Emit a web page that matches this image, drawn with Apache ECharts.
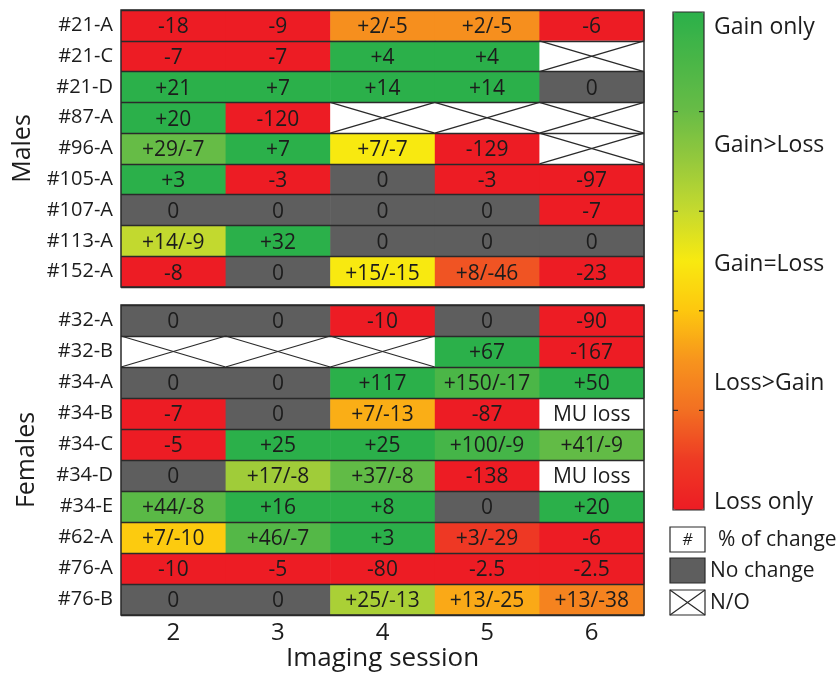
<!DOCTYPE html>
<html><head><meta charset="utf-8">
<script src="https://cdn.jsdelivr.net/npm/echarts@6/dist/echarts.min.js"></script>
<style>html,body{margin:0;padding:0;background:#fff}#c{width:839px;height:675px}</style>
</head><body><div id="c"></div><script>
// ---------- data ----------
const sessions = ['2', '3', '4', '5', '6'];
const maleIds = ['#21-A', '#21-C', '#21-D', '#87-A', '#96-A', '#105-A', '#107-A', '#113-A', '#152-A'];
const maleCells = [
  ['-18', '-9', '+2/-5', '+2/-5', '-6'],
  ['-7', '-7', '+4', '+4', 'N/O'],
  ['+21', '+7', '+14', '+14', '0'],
  ['+20', '-120', 'N/O', 'N/O', 'N/O'],
  ['+29/-7', '+7', '+7/-7', '-129', 'N/O'],
  ['+3', '-3', '0', '-3', '-97'],
  ['0', '0', '0', '0', '-7'],
  ['+14/-9', '+32', '0', '0', '0'],
  ['-8', '0', '+15/-15', '+8/-46', '-23']
];
const femaleIds = ['#32-A', '#32-B', '#34-A', '#34-B', '#34-C', '#34-D', '#34-E', '#62-A', '#76-A', '#76-B'];
const femaleCells = [
  ['0', '0', '-10', '0', '-90'],
  ['N/O', 'N/O', 'N/O', '+67', '-167'],
  ['0', '0', '+117', '+150/-17', '+50'],
  ['-7', '0', '+7/-13', '-87', 'MU loss'],
  ['-5', '+25', '+25', '+100/-9', '+41/-9'],
  ['0', '+17/-8', '+37/-8', '-138', 'MU loss'],
  ['+44/-8', '+16', '+8', '0', '+20'],
  ['+7/-10', '+46/-7', '+3', '+3/-29', '-6'],
  ['-10', '-5', '-80', '-2.5', '-2.5'],
  ['0', '0', '+25/-13', '+13/-25', '+13/-38']
];
const groupNames = ['Males', 'Females'];
const axisTitle = 'Imaging session';
const scaleLabels = ['Gain only', 'Gain>Loss', 'Gain=Loss', 'Loss>Gain', 'Loss only'];
const legendLabels = ['% of change', 'No change', 'N/O'];
const legendSymbolText = '#';

// ---------- styles ----------
const FONT = "'Open Sans', sans-serif";
const TXT = '#1c1c1c';
const LINE = '#2a2a2a';
const GRAY = '#5e5e5e';
// colour ramp from "loss only" (0) to "gain only" (1), evenly spaced stops
const ramp = ['#ed1c24', '#ee3a24', '#f26f22', '#f7941d', '#fdc70f', '#f8e910',
              '#c6da2e', '#96c93c', '#68bc46', '#4ab647', '#2bb04a'];

// ---------- build ----------
function buildPanel(cells) {
  const data = [], meta = [];
  cells.forEach((row, r) => row.forEach((lab, c) => {
    let kind = 'ratio', ratio = '-';
    if (lab === 'N/O') kind = 'na';
    else if (lab === 'MU loss') kind = 'mu';
    else if (Number(lab) === 0) kind = 'none';
    else {
      const parts = lab.match(/[+-][\d.]+/g).map(Number);
      let g = 0, l = 0;
      parts.forEach(p => { if (p > 0) g += p; else l -= p; });
      ratio = g / (g + l);
    }
    data.push([c, r, ratio]);
    meta.push({ kind, text: lab });
  }));
  return { data, meta };
}
const panels = [buildPanel(maleCells), buildPanel(femaleCells)];

function makeRender(meta) {
  return function (params, api) {
    const m = meta[params.dataIndex];
    const ctr = api.coord([api.value(0), api.value(1)]);
    const sz = api.size([1, 1]);
    const x = ctr[0] - sz[0] / 2, y = ctr[1] - sz[1] / 2, w = sz[0], h = sz[1];
    let fill = '#fff';
    if (m.kind === 'ratio') fill = api.visual('color');
    else if (m.kind === 'none') fill = GRAY;
    const children = [{ type: 'rect', shape: { x: x, y: y, width: w + 0.6, height: h + 0.6 }, style: { fill: fill } }];
    if (m.kind === 'na') {
      children.push({ type: 'line', shape: { x1: x, y1: y, x2: x + w, y2: y + h }, style: { stroke: LINE, lineWidth: 1.3 } });
      children.push({ type: 'line', shape: { x1: x, y1: y + h, x2: x + w, y2: y }, style: { stroke: LINE, lineWidth: 1.3 } });
    } else {
      children.push({ type: 'text', style: { text: m.text, x: ctr[0], y: ctr[1] + 2, align: 'center', verticalAlign: 'middle', font: '21px ' + FONT, fill: TXT } });
    }
    return { type: 'group', children: children };
  };
}

const grids = [
  { left: 121, top: 10, width: 523, height: 277 },
  { left: 121, top: 305, width: 523, height: 310 }
].map(g => Object.assign(g, { show: true, z: 10, borderColor: LINE, borderWidth: 1.5, backgroundColor: 'transparent' }));

const ids = [maleIds, femaleIds];
const xAxes = [0, 1].map(i => ({
  type: 'category', gridIndex: i, data: sessions,
  axisLine: { show: false }, axisTick: { show: false }, splitLine: { show: false },
  axisLabel: { show: i === 1, fontSize: 24, fontFamily: FONT, color: TXT, margin: 6, interval: 0 },
  name: i === 1 ? axisTitle : '', nameLocation: 'middle', nameGap: 29,
  nameTextStyle: { fontSize: 26, fontFamily: FONT, color: TXT }
}));
const yAxes = [0, 1].map(i => ({
  type: 'category', gridIndex: i, data: ids[i], inverse: true, z: 5,
  axisLine: { show: false }, axisTick: { show: false },
  splitLine: { show: true, interval: 0, lineStyle: { color: LINE, width: 1.3 } },
  axisLabel: { fontSize: 20, fontFamily: FONT, color: TXT, margin: 8, interval: 0 },
  name: groupNames[i], nameLocation: 'middle', nameRotate: 90, nameGap: 82,
  nameTextStyle: { fontSize: 25, fontFamily: FONT, color: TXT }
}));

const series = panels.map((p, i) => ({
  type: 'custom', xAxisIndex: i, yAxisIndex: i, data: p.data,
  renderItem: makeRender(p.meta), animation: false, z: 2
}));

// colour bar decorations and legend
const barX = 673, barY = 12, barW = 31, barH = 498;
const graphics = [];
graphics.push({ type: 'rect', z: 100, shape: { x: barX, y: barY, width: barW, height: barH }, style: { fill: 'none', stroke: LINE, lineWidth: 1.2 } });
for (let k = 1; k < scaleLabels.length; k++) {
  const ty = barY + barH * k / scaleLabels.length;
  graphics.push({ type: 'line', z: 100, shape: { x1: barX, y1: ty, x2: barX + 5, y2: ty }, style: { stroke: LINE, lineWidth: 1.2 } });
  graphics.push({ type: 'line', z: 100, shape: { x1: barX + barW - 5, y1: ty, x2: barX + barW, y2: ty }, style: { stroke: LINE, lineWidth: 1.2 } });
}
scaleLabels.forEach((t, i) => {
  graphics.push({ type: 'text', z: 100, style: { text: t, x: 714, y: 27 + i * 118.75, verticalAlign: 'middle', align: 'left', font: '23px ' + FONT, fill: TXT } });
});
const legY = [527, 558, 590];
const legTx = [718, 710, 710];
legendLabels.forEach((t, i) => {
  const y0 = legY[i];
  graphics.push({ type: 'rect', z: 100, shape: { x: 670, y: y0, width: 35, height: 25 }, style: { fill: i === 1 ? GRAY : '#fff', stroke: LINE, lineWidth: 1.2 } });
  if (i === 0) graphics.push({ type: 'text', z: 101, style: { text: legendSymbolText, x: 687.5, y: y0 + 13, align: 'center', verticalAlign: 'middle', font: 'italic 16px ' + FONT, fill: TXT } });
  if (i === 2) {
    graphics.push({ type: 'line', z: 101, shape: { x1: 670, y1: y0, x2: 705, y2: y0 + 25 }, style: { stroke: LINE, lineWidth: 1.2 } });
    graphics.push({ type: 'line', z: 101, shape: { x1: 670, y1: y0 + 25, x2: 705, y2: y0 }, style: { stroke: LINE, lineWidth: 1.2 } });
  }
  graphics.push({ type: 'text', z: 100, style: { text: t, x: legTx[i], y: y0 + 13, align: 'left', verticalAlign: 'middle', font: '21px ' + FONT, fill: TXT } });
});

const chart = echarts.init(document.getElementById('c'), null, { renderer: 'canvas' });
chart.setOption({
  backgroundColor: '#fff',
  animation: false,
  grid: grids,
  xAxis: xAxes,
  yAxis: yAxes,
  visualMap: {
    type: 'continuous', min: 0, max: 1, dimension: 2, seriesIndex: [0, 1],
    inRange: { color: ramp }, outOfRange: { color: '#fff' },
    calculable: false, show: true, text: null, orient: 'vertical',
    left: barX, top: barY, itemWidth: barW, itemHeight: barH, padding: 0,
    hoverLink: false
  },
  series: series,
  graphic: { elements: graphics }
});
</script></body></html>
